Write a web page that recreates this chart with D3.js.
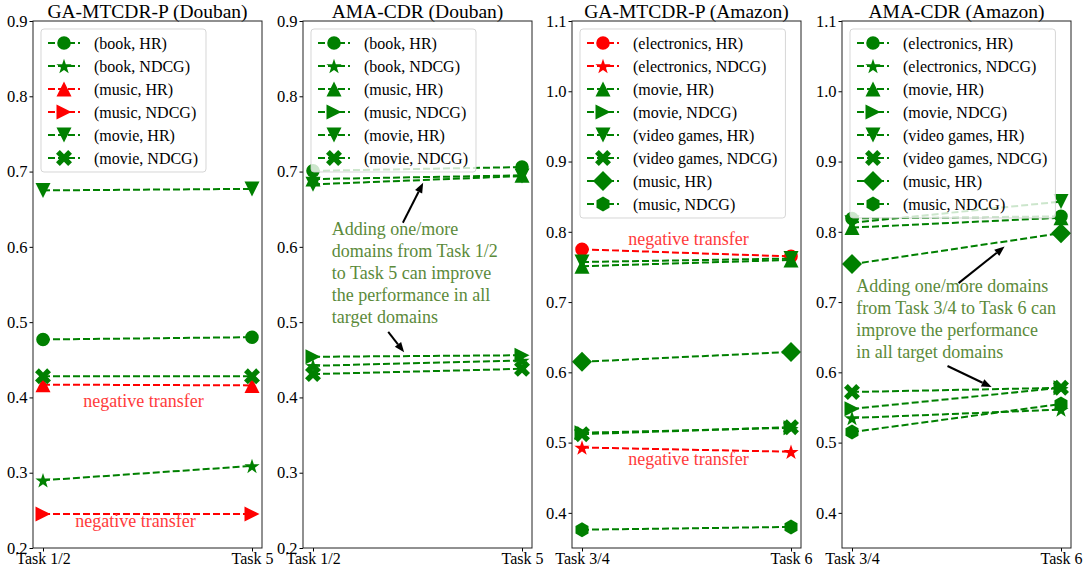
<!DOCTYPE html>
<html>
<head>
<meta charset="utf-8">
<script src="https://cdn.jsdelivr.net/npm/d3@7"></script>
<style>
  body { margin: 0; background: #fff; }
  svg, svg text { font-family: "Liberation Serif", "Tinos", "Times New Roman", "DejaVu Serif", serif !important; }
</style>
</head>
<body>
<script>
const width = 1085;
const height = 573;
const SERIF = '"Liberation Serif", "Tinos", "Times New Roman", "DejaVu Serif", serif';

// categories / tick labels
const tasksDouban = ["Task 1/2", "Task 5"];
const tasksAmazon = ["Task 3/4", "Task 6"];
const yTicksDouban = [0.2, 0.3, 0.4, 0.5, 0.6, 0.7, 0.8, 0.9];
const yTicksAmazon = [0.4, 0.5, 0.6, 0.7, 0.8, 0.9, 1.0, 1.1];

// series names
const doubanSeries = ["(book, HR)", "(book, NDCG)", "(music, HR)", "(music, NDCG)", "(movie, HR)", "(movie, NDCG)"];
const amazonSeries = ["(electronics, HR)", "(electronics, NDCG)", "(movie, HR)", "(movie, NDCG)",
  "(video games, HR)", "(video games, NDCG)", "(music, HR)", "(music, NDCG)"];
const doubanMarkers = ["circle", "star", "up", "right", "down", "x"];
const amazonMarkers = ["circle", "star", "up", "right", "down", "x", "diamond", "hexagon"];

// values [first task, second task]
const gaDoubanValues = [[0.477, 0.480], [0.290, 0.309], [0.417, 0.416], [0.245, 0.245], [0.675, 0.677], [0.428, 0.428]];
const amaDoubanValues = [[0.701, 0.706], [0.442, 0.449], [0.690, 0.695], [0.454, 0.456], [0.683, 0.694], [0.431, 0.438]];
const gaAmazonValues = [[0.775, 0.765], [0.493, 0.487], [0.751, 0.760], [0.514, 0.521],
  [0.757, 0.762], [0.512, 0.522], [0.615, 0.629], [0.376, 0.380]];
const amaAmazonValues = [[0.819, 0.822], [0.535, 0.547], [0.806, 0.820], [0.548, 0.578],
  [0.813, 0.843], [0.572, 0.578], [0.754, 0.798], [0.515, 0.555]];

// which series show negative transfer (drawn red)
const gaDoubanNegative = [false, false, true, true, false, false];
const gaAmazonNegative = [true, true, false, false, false, false, false, false];

const GREEN = "#008000";
const RED = "#ff0000";
const NOTE_GREEN = "#5b8a3a";
const NOTE_RED = "#ff3b3b";

const panels = [
  { title: "GA-MTCDR-P (Douban)", left: 33, tasks: tasksDouban, ticks: yTicksDouban, ydom: [0.2, 0.9],
    names: doubanSeries, markers: doubanMarkers, values: gaDoubanValues, negative: gaDoubanNegative,
    notes: [
      { text: ["negative transfer"], x: 0.5, y: 0.4, color: NOTE_RED, anchor: "middle", dx: -4, dy: 10 },
      { text: ["negative transfer"], x: 0.5, y: 0.245, color: NOTE_RED, anchor: "middle", dx: -12, dy: 13 }
    ], arrows: [] },
  { title: "AMA-CDR (Douban)", left: 303, tasks: tasksDouban, ticks: yTicksDouban, ydom: [0.2, 0.9],
    names: doubanSeries, markers: doubanMarkers, values: amaDoubanValues, negative: null,
    notes: [
      { text: ["Adding one/more", "domains from Task 1/2", "to Task 5 can improve", "the performance in all", "target domains"],
        x: 0.09, y: 0.616, color: NOTE_GREEN, anchor: "start", dx: 0, dy: 0 }
    ],
    arrows: [
      { from: [0.43, 0.632], to: [0.527, 0.685] },
      { from: [0.36, 0.487], to: [0.436, 0.46] }
    ] },
  { title: "GA-MTCDR-P (Amazon)", left: 572, tasks: tasksAmazon, ticks: yTicksAmazon, ydom: [0.35, 1.1],
    names: amazonSeries, markers: amazonMarkers, values: gaAmazonValues, negative: gaAmazonNegative,
    notes: [
      { text: ["negative transfer"], x: 0.5, y: 0.776, color: NOTE_RED, anchor: "middle", dx: 2, dy: -4 },
      { text: ["negative transfer"], x: 0.5, y: 0.49, color: NOTE_RED, anchor: "middle", dx: 2, dy: 15 }
    ], arrows: [] },
  { title: "AMA-CDR (Amazon)", left: 842, tasks: tasksAmazon, ticks: yTicksAmazon, ydom: [0.35, 1.1],
    names: amazonSeries, markers: amazonMarkers, values: amaAmazonValues, negative: null,
    notes: [
      { text: ["Adding one/more domains", "from Task 3/4 to Task 6 can", "improve the performance", "in all target domains"],
        x: 0.02, y: 0.715, color: NOTE_GREEN, anchor: "start", dx: 0, dy: 0 }
    ],
    arrows: [
      { from: [0.51, 0.727], to: [0.73, 0.779] },
      { from: [0.457, 0.609], to: [0.668, 0.579] }
    ] }
];

const axTop = 21, axBottom = 548, axWidth = 229;

function markerPath(type) {
  const p = d3.path();
  const pts = (arr) => { arr.forEach((q, i) => i ? p.lineTo(q[0], q[1]) : p.moveTo(q[0], q[1])); p.closePath(); };
  if (type === "circle") { p.arc(0, 0, 6.8, 0, 2 * Math.PI); return p.toString(); }
  if (type === "up") { pts([[0, -7.5], [7.5, 7.5], [-7.5, 7.5]]); return p.toString(); }
  if (type === "down") { pts([[0, 7.5], [7.5, -7.5], [-7.5, -7.5]]); return p.toString(); }
  if (type === "right") { pts([[7.5, 0], [-7.5, -7.5], [-7.5, 7.5]]); return p.toString(); }
  if (type === "diamond") { pts([[0, -10], [10, 0], [0, 10], [-10, 0]]); return p.toString(); }
  if (type === "hexagon") {
    pts(d3.range(6).map(i => { const a = -Math.PI / 2 + i * Math.PI / 3; return [7.5 * Math.cos(a), 7.5 * Math.sin(a)]; }));
    return p.toString();
  }
  if (type === "star") {
    pts(d3.range(10).map(i => {
      const a = -Math.PI / 2 + i * Math.PI / 5;
      const r = i % 2 ? 3.1 : 8;
      return [r * Math.cos(a), r * Math.sin(a) + 0.8];
    }));
    return p.toString();
  }
  if (type === "x") {
    const L = 8.6, w = 2.7;
    const plus = [[-w, -L], [w, -L], [w, -w], [L, -w], [L, w], [w, w], [w, L], [-w, L], [-w, w], [-L, w], [-L, -w], [-w, -w]];
    const c = Math.SQRT1_2;
    pts(plus.map(q => [(q[0] - q[1]) * c, (q[0] + q[1]) * c]));
    return p.toString();
  }
}

const svg = d3.select("body").append("svg").attr("width", width).attr("height", height)
  .attr("font-family", SERIF);

panels.forEach(pn => {
  const g = svg.append("g");
  const x = d3.scalePoint().domain(pn.tasks).range([pn.left + 10, pn.left + axWidth - 10]);
  const xv = d3.scaleLinear().domain([0, 1]).range([pn.left + 10, pn.left + axWidth - 10]);
  const y = d3.scaleLinear().domain(pn.ydom).range([axBottom, axTop]);
  const color = i => (pn.negative && pn.negative[i]) ? RED : GREEN;

  // axes
  const ya = g.append("g").attr("transform", `translate(${pn.left},0)`)
    .call(d3.axisLeft(y).tickValues(pn.ticks).tickFormat(d3.format(".1f")).tickSize(3.5).tickPadding(2));
  ya.attr("font-family", SERIF).attr("font-size", 16.5);
  ya.select(".domain").remove();
  ya.selectAll("text").attr("fill", "#000");
  const xa = g.append("g").attr("transform", `translate(0,${axBottom})`)
    .call(d3.axisBottom(x).tickSize(3.5).tickPadding(1.5));
  xa.attr("font-family", SERIF).attr("font-size", 16);
  xa.select(".domain").remove();
  xa.selectAll("text").attr("fill", "#000");

  g.append("text").attr("x", pn.left + axWidth / 2).attr("y", 17.5)
    .attr("text-anchor", "middle").attr("font-size", 19.5).text(pn.title);

  // series
  pn.values.forEach((vals, i) => {
    const pts = vals.map((v, j) => [x(pn.tasks[j]), y(v)]);
    g.append("path").attr("d", d3.line()(pts)).attr("fill", "none")
      .attr("stroke", color(i)).attr("stroke-width", 2).attr("stroke-dasharray", "7,3");
    g.selectAll(null).data(pts).enter().append("path")
      .attr("d", markerPath(pn.markers[i]))
      .attr("transform", d => `translate(${d[0]},${d[1]})`)
      .attr("fill", color(i));
  });

  // frame
  g.append("rect").attr("x", pn.left).attr("y", axTop).attr("width", axWidth).attr("height", axBottom - axTop)
    .attr("fill", "none").attr("stroke", "#222").attr("stroke-width", 1);

  // legend
  const lg = g.append("g").attr("transform", `translate(${pn.left + 8},29)`);
  const box = lg.append("rect");
  let maxW = 0;
  pn.names.forEach((nm, i) => {
    const cy = 14 + 23 * i;
    lg.append("line").attr("x1", 7).attr("x2", 39).attr("y1", cy).attr("y2", cy)
      .attr("stroke", color(i)).attr("stroke-width", 2).attr("stroke-dasharray", "7,3");
    lg.append("path").attr("d", markerPath(pn.markers[i])).attr("transform", `translate(23,${cy})`).attr("fill", color(i));
    const t = lg.append("text").attr("x", 53).attr("y", cy).attr("dy", "0.35em").attr("font-size", 16).text(nm);
    maxW = Math.max(maxW, t.node().getComputedTextLength());
  });
  box.attr("x", 0).attr("y", 0).attr("rx", 3).attr("width", 53 + maxW + 8).attr("height", 23 * (pn.names.length - 1) + 28)
    .attr("fill", "#fff").attr("fill-opacity", 0.8).attr("stroke", "#ccc").attr("stroke-opacity", 0.8);

  // annotations
  pn.notes.forEach(n => {
    const t = g.append("text").attr("x", xv(n.x) + n.dx).attr("y", y(n.y) + n.dy)
      .attr("text-anchor", n.anchor).attr("fill", n.color).attr("font-size", 18);
    n.text.forEach((ln, k) => t.append("tspan").attr("x", xv(n.x) + n.dx).attr("dy", k ? 22 : 0).text(ln));
  });
  pn.arrows.forEach(a => {
    const x1 = xv(a.from[0]), y1 = y(a.from[1]), x2 = xv(a.to[0]), y2 = y(a.to[1]);
    const ang = Math.atan2(y2 - y1, x2 - x1);
    const hl = 10, hw = 4;
    const bx = x2 - hl * Math.cos(ang), by = y2 - hl * Math.sin(ang);
    g.append("line").attr("x1", x1).attr("y1", y1).attr("x2", bx).attr("y2", by)
      .attr("stroke", "#000").attr("stroke-width", 2);
    const nx = -Math.sin(ang) * hw, ny = Math.cos(ang) * hw;
    g.append("path").attr("d", `M${x2},${y2}L${bx + nx},${by + ny}L${bx - nx},${by - ny}Z`).attr("fill", "#000");
  });
});
</script>
</body>
</html>
